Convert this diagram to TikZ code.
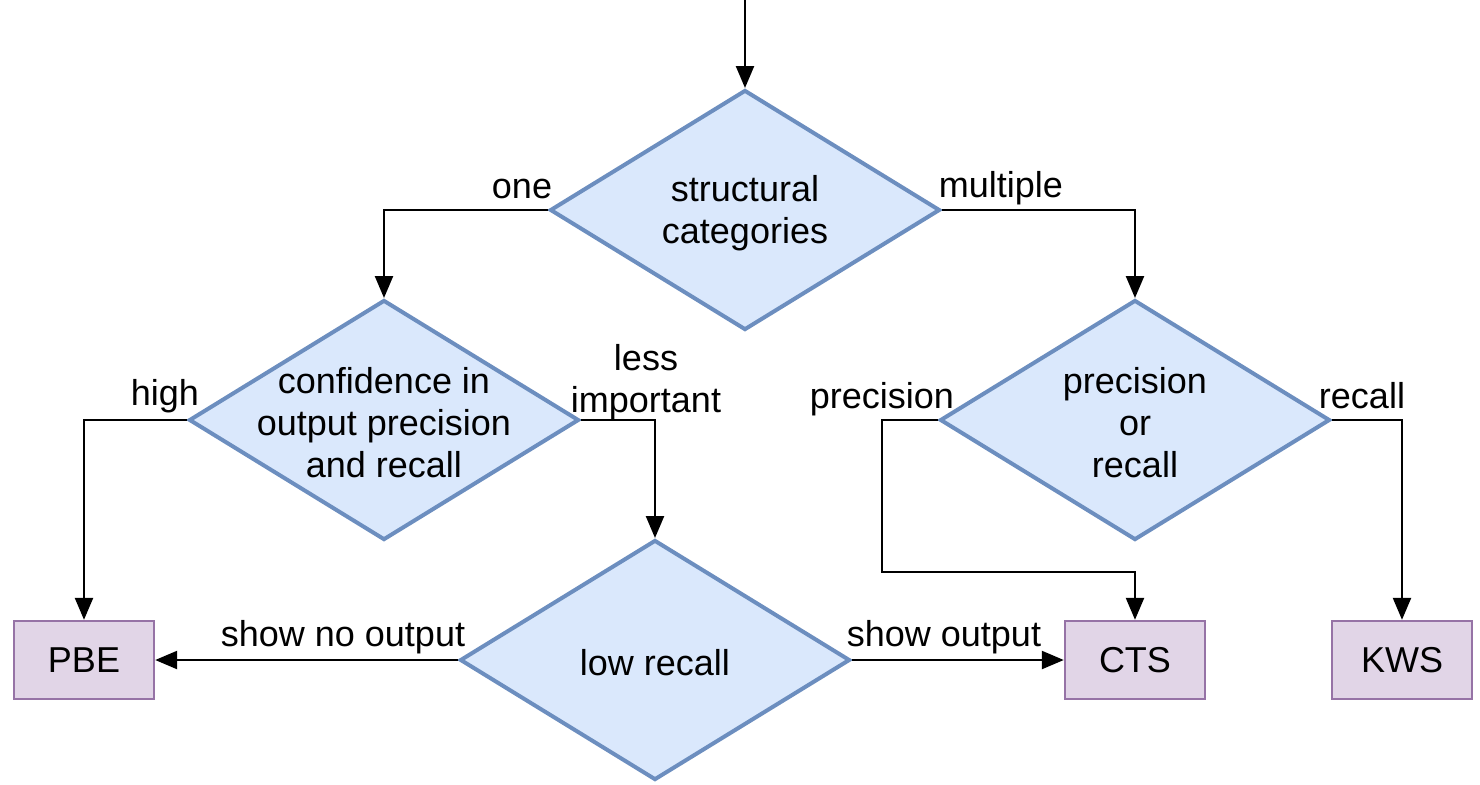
\documentclass[tikz,border=0pt]{standalone}
\usepackage{fontspec}
\setmainfont{Liberation Sans}
\usepackage{tikz}
\usetikzlibrary{arrows.meta,shapes.geometric}
\usepackage{xcolor}
\definecolor{DecFill}{HTML}{DAE8FC}
\definecolor{DecLine}{HTML}{6C8EBF}
\definecolor{ResFill}{HTML}{E1D5E7}
\definecolor{ResLine}{HTML}{9673A6}

\begin{document}
\begin{tikzpicture}[x=0.5pt,y=-0.5pt,>={Triangle[length=11pt,width=9pt]},
  every node/.style={font=\fontsize{18}{21}\selectfont},
  decision/.style={diamond,draw=DecLine,fill=DecFill,line width=2pt,aspect=1.625,
    minimum width=195pt,minimum height=120pt,inner sep=0pt},
  dectext/.style={align=center,inner sep=0pt,yshift=-1.5pt},
  result/.style={draw=ResLine,fill=ResFill,line width=1.2pt,minimum width=70pt,minimum height=39pt},
  lbl/.style={anchor=base,inner sep=0pt},
  arr/.style={->,line width=1.2pt}]
  \useasboundingbox (0,0) rectangle (1480,784);
  % decisions
  \node[decision,label={[dectext]center:structural\\categories}] (sc) at (745,210) {};
  \node[decision,label={[dectext]center:confidence in\\output precision\\and recall}] (conf) at (384,420) {};
  \node[decision,label={[dectext]center:precision\\or\\recall}] (pr) at (1135,420) {};
  \node[decision,label={[dectext]center:low recall}] (low) at (655,660) {};
  % outcomes
  \node[result] (pbe) at (84,660) {PBE};
  \node[result] (cts) at (1135,660) {CTS};
  \node[result] (kws) at (1402,660) {KWS};
  \coordinate (start) at (745,0);
  \coordinate (pbend) at (882,572);
  % connectors
  \draw[arr] (start) -- (sc.north);
  \draw[arr] (sc.west) -| (conf.north);
  \draw[arr] (sc.east) -| (pr.north);
  \draw[arr] (conf.west) -| (pbe.north);
  \draw[arr] (conf.east) -| (low.north);
  \draw[arr] (pr.west) -| (pbend) -| (cts.north);
  \draw[arr] (pr.east) -| (kws.north);
  \draw[arr] (low.west) -- (pbe.east);
  \draw[arr] (low.east) -- (cts.west);
  % edge labels
  \node[lbl] (l1) at (522,198) {one};
  \node[lbl] (l2) at (1001,197) {multiple};
  \node[lbl] (l3) at (165,405) {high};
  \node[align=center,inner sep=0pt] (l4) at (646,382) {less\\important};
  \node[lbl] (l5) at (882,408) {precision};
  \node[lbl] (l6) at (1362,408) {recall};
  \node[lbl] (l7) at (343,646) {show no output};
  \node[lbl] (l8) at (944,646) {show output};
\end{tikzpicture}
\end{document}
